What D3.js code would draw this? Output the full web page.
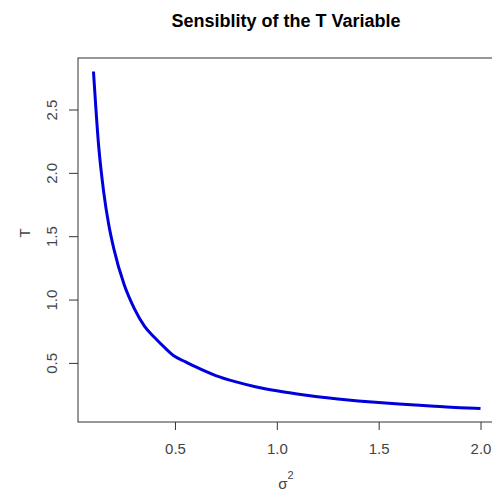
<!DOCTYPE html>
<html>
<head>
<meta charset="utf-8">
<script src="https://cdn.jsdelivr.net/npm/d3@7"></script>
<style>
  body { margin: 0; background: #fff; }
  text { font-family: "Liberation Sans", Arial, sans-serif; }
</style>
</head>
<body>
<script>
// valores
var sigma2 = [0.10, 0.125, 0.15, 0.175, 0.20, 0.25, 0.30, 0.35, 0.40, 0.45, 0.50, 0.55, 0.60, 0.70, 0.80, 0.90, 1.0, 1.1, 1.2, 1.3, 1.4, 1.5, 1.6, 1.7, 1.8, 1.9, 2.0];
var tVals = [2.80, 2.22, 1.85, 1.59, 1.40, 1.12, 0.93, 0.79, 0.70, 0.62, 0.55, 0.51, 0.47, 0.40, 0.35, 0.31, 0.28, 0.255, 0.233, 0.215, 0.20, 0.187, 0.175, 0.165, 0.156, 0.147, 0.14];
var xTicks = [0.5, 1.0, 1.5, 2.0];
var yTicks = [0.5, 1.0, 1.5, 2.0, 2.5];

var w = 492, h = 491;
var margin = { left: 78, top: 58, right: -4, bottom: 69 };

var svg = d3.select("body").append("svg").attr("width", w).attr("height", h);

// dominio con el 4% extra como en R
var x = d3.scaleLinear().domain([0.024, 2.076]).range([margin.left, w - margin.right]);
var y = d3.scaleLinear().domain([0.0336, 2.9064]).range([h - margin.bottom, margin.top]);

svg.append("rect")
  .attr("x", margin.left).attr("y", margin.top)
  .attr("width", w - margin.right - margin.left)
  .attr("height", h - margin.bottom - margin.top)
  .attr("fill", "none").attr("stroke", "#333").attr("stroke-width", 1);

var xAxis = svg.append("g").attr("transform", "translate(0," + (h - margin.bottom) + ")")
  .call(d3.axisBottom(x).tickValues(xTicks).tickSize(8).tickPadding(13).tickFormat(d3.format(".1f")));
var yAxis = svg.append("g").attr("transform", "translate(" + margin.left + ",0)")
  .call(d3.axisLeft(y).tickValues(yTicks).tickSize(9).tickFormat(d3.format(".1f")));

[xAxis, yAxis].forEach(function (a) {
  a.select(".domain").remove();
  a.selectAll(".tick line").attr("stroke", "#333");
  a.selectAll(".tick text").attr("fill", "#444").style("font-size", "15px");
});

// etiquetas del eje y rotadas
yAxis.selectAll(".tick text")
  .attr("x", null).attr("dy", null)
  .attr("text-anchor", "middle")
  .attr("transform", "translate(-21,0) rotate(-90)");

svg.append("path")
  .datum(sigma2.map(function (s, i) { return [s, tVals[i]]; }))
  .attr("fill", "none").attr("stroke", "#0000dd").attr("stroke-width", 3)
  .attr("stroke-linejoin", "round")
  .attr("d", d3.line().x(function (d) { return x(d[0]); }).y(function (d) { return y(d[1]); }).curve(d3.curveMonotoneX));

svg.append("text").attr("x", 286).attr("y", 27).attr("text-anchor", "middle")
  .style("font-size", "18px").style("font-weight", "bold").text("Sensiblity of the T Variable");

var xl = svg.append("text").attr("x", 286).attr("y", 489).attr("text-anchor", "middle")
  .attr("fill", "#444").style("font-size", "15px");
xl.append("tspan").text("σ");
xl.append("tspan").attr("dy", -10).style("font-size", "11px").text("2");

svg.append("text").attr("transform", "translate(30,233) rotate(-90)").attr("text-anchor", "middle")
  .attr("fill", "#444").style("font-size", "15px").text("T");
</script>
</body>
</html>
